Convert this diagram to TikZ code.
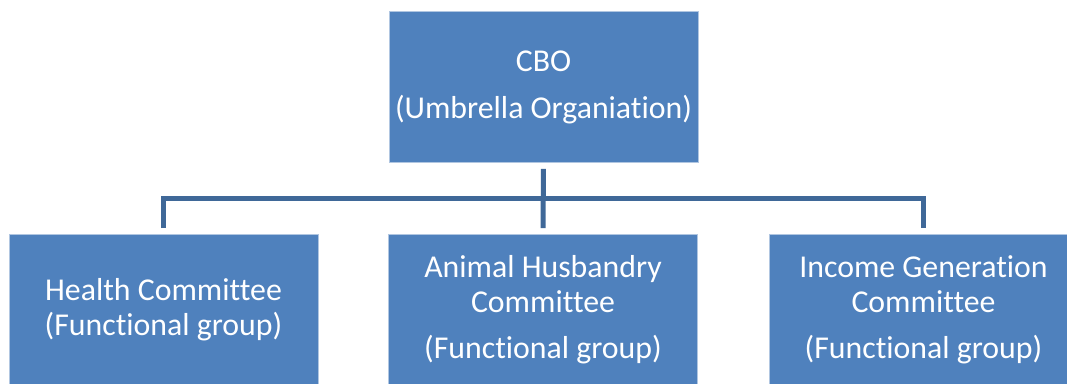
\documentclass[tikz,border=0pt]{standalone}
\usepackage{fontspec}
\setmainfont{Carlito}[Ligatures=NoCommon]
\definecolor{boxblue}{HTML}{4F81BD}
\definecolor{linkblue}{HTML}{3F6898}
\begin{document}
\begin{tikzpicture}[x=1pt,y=-1pt,
  orgbox/.style={rectangle, fill=boxblue, draw=white!55!boxblue, line width=0.8pt,
    minimum width=309pt, minimum height=151pt, inner sep=0pt,
    text=white, align=center,
    font=\fontsize{31.8pt}{35pt}\selectfont},
  conn/.style={draw=linkblue, line width=5pt}]
\useasboundingbox (0,0) rectangle (1067,383);
\clip (0,0) rectangle (1067,383);
\node[orgbox] (cbo) at (543.5,87) {CBO\\[12pt](Umbrella Organiation)};
\node[orgbox] (hc) at (163.5,310) {Health Committee\\(Functional group)};
\node[orgbox] (ah) at (543,310) {Animal Husbandry\\Committee\\[11pt](Functional group)};
\node[orgbox] (ig) at (923.5,310) {Income Generation\\Committee\\[11pt](Functional group)};
\coordinate (bus) at (543.5,198.5);
\draw[conn, shorten <=6pt, shorten >=6pt] (cbo.south) -- (ah.north);
\draw[conn, shorten <=6pt, shorten >=6pt] (hc.north) |- (bus) -| (ig.north);
\end{tikzpicture}
\end{document}
